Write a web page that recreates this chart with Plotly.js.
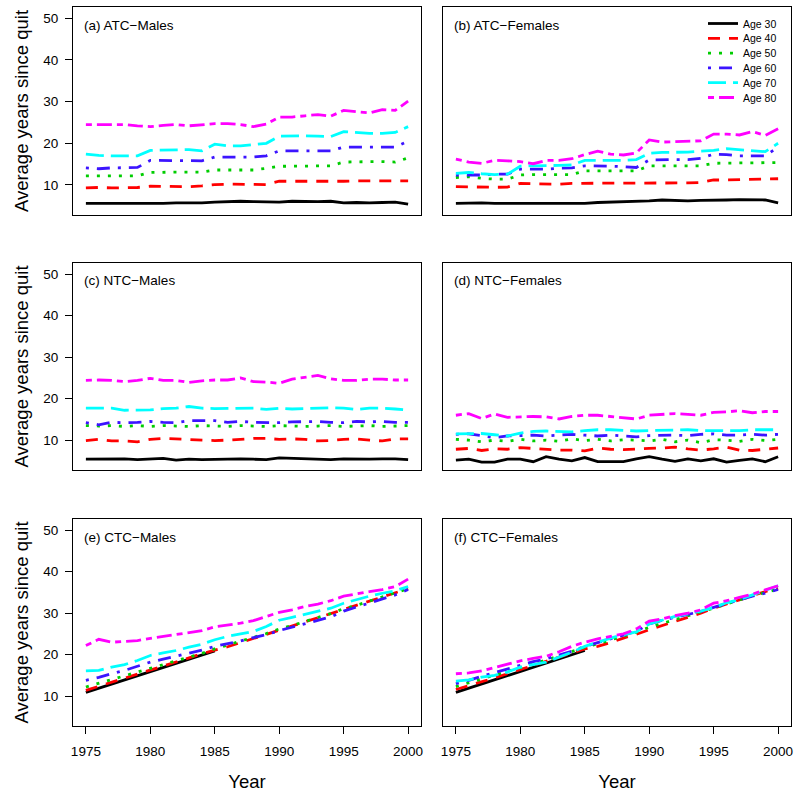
<!DOCTYPE html>
<html>
<head>
<meta charset="utf-8">
<script src="https://cdn.plot.ly/plotly-3.0.1.min.js"></script>
<style>html,body{margin:0;padding:0;background:#fff;}</style>
</head>
<body>
<div id="chart" style="width:800px;height:796px;"></div>
<script>
// ---------- data ----------
const years = [1975,1976,1977,1978,1979,1980,1981,1982,1983,1984,1985,1986,1987,1988,1989,1990,1991,1992,1993,1994,1995,1996,1997,1998,1999,2000];
const ageLabels = ["Age 30","Age 40","Age 50","Age 60","Age 70","Age 80"];
const panelTitles = ["(a) ATC\u2212Males","(b) ATC\u2212Females","(c) NTC\u2212Males","(d) NTC\u2212Females","(e) CTC\u2212Males","(f) CTC\u2212Females"];
const xTickVals = [1975,1980,1985,1990,1995,2000];
const yTickVals = [10,20,30,40,50];

// (a) ATC-Males
const atcM30 = [5.6,5.6,5.5,5.5,5.6,5.6,5.6,5.7,5.7,5.7,5.9,6.0,6.1,6.0,6.0,5.9,6.1,6.0,6.0,6.1,5.7,5.8,5.7,5.8,5.9,5.4];
const atcM40 = [9.3,9.4,9.3,9.3,9.4,9.7,9.7,9.6,9.6,9.8,10.1,10.2,10.2,10.1,10.1,10.9,10.9,10.8,10.8,10.8,10.9,11.0,11.0,11.0,11.0,11.0];
const atcM50 = [12.2,12.2,12.2,12.2,12.2,13.0,13.1,13.1,13.1,13.1,13.6,13.6,13.6,13.6,14.0,14.5,14.5,14.5,14.5,14.6,15.5,15.6,15.6,15.6,15.5,16.5];
const atcM60 = [14.1,13.9,14.1,14.2,14.2,15.9,15.9,15.9,15.9,15.8,16.7,16.7,16.7,16.7,17.0,18.2,18.2,18.2,18.1,18.2,19.1,19.1,19.1,19.1,19.1,20.5];
const atcM70 = [17.4,17.1,17.0,17.0,17.0,18.3,18.4,18.4,18.5,18.2,19.8,19.4,19.4,19.7,20.0,21.7,21.8,21.8,21.7,21.6,22.8,22.6,22.4,22.4,22.6,24.0];
const atcM80 = [24.5,24.5,24.5,24.5,24.2,24.0,24.3,24.5,24.2,24.4,24.7,24.7,24.5,24.0,24.6,26.3,26.3,26.6,26.9,26.5,27.9,27.6,27.3,28.1,27.9,30.1];

// (b) ATC-Females
const atcF30 = [5.6,5.7,5.7,5.6,5.6,5.5,5.5,5.5,5.5,5.5,5.6,5.8,5.9,5.9,6.0,6.2,6.4,6.3,6.2,6.3,6.3,6.4,6.5,6.4,6.4,5.7];
const atcF40 = [9.6,9.5,9.5,9.45,9.5,10.4,10.3,10.2,10.2,10.4,10.4,10.4,10.4,10.4,10.5,10.4,10.4,10.5,10.5,10.6,11.2,11.2,11.3,11.3,11.4,11.5];
const atcF50 = [11.8,12.0,11.6,11.4,11.4,12.4,12.5,12.5,12.5,12.5,13.4,13.4,13.4,13.3,13.4,14.6,14.6,14.6,14.6,14.6,15.2,15.3,15.3,15.3,15.3,15.4];
const atcF60 = [12.4,12.4,12.4,12.6,12.6,13.8,13.8,13.8,14.0,14.1,14.6,14.6,14.5,14.4,14.2,16.0,16.1,16.1,16.1,16.4,17.4,17.3,17.0,17.0,17.0,19.1];
const atcF70 = [12.8,13.0,12.7,12.5,12.6,14.5,14.6,14.6,14.7,14.8,15.9,15.9,15.9,15.9,16.1,17.6,17.8,17.8,17.9,18.1,18.3,18.7,18.5,18.2,18.0,20.0];
const atcF80 = [16.2,15.5,15.2,15.9,15.8,15.6,15.1,15.9,15.9,16.3,17.3,18.1,17.4,17.2,17.7,20.8,20.3,20.4,20.4,20.6,22.2,22.2,22.0,22.8,21.9,23.5];

// (c) NTC-Males
const ntcM30 = [5.4,5.4,5.5,5.5,5.3,5.5,5.6,5.2,5.4,5.3,5.4,5.4,5.5,5.4,5.3,5.7,5.6,5.4,5.4,5.3,5.5,5.4,5.4,5.5,5.5,5.3];
const ntcM40 = [9.9,10.2,9.8,9.8,9.6,10.2,10.4,10.3,10.2,10.0,9.9,10.0,10.2,10.4,10.4,10.2,10.3,10.2,9.8,9.9,10.2,10.3,10.0,9.8,10.3,10.3];
const ntcM50 = [13.5,13.4,13.5,13.3,13.5,13.3,13.5,13.4,13.3,13.5,13.4,13.3,13.5,13.4,13.3,13.5,13.4,13.3,13.4,13.5,13.3,13.4,13.5,13.3,13.4,13.5];
const ntcM60 = [14.2,13.7,14.3,14.2,14.3,14.5,14.3,14.2,14.7,14.7,14.7,14.3,14.5,14.3,14.2,14.2,14.4,14.5,14.5,14.3,14.2,14.5,14.4,14.5,14.3,14.3];
const ntcM70 = [17.7,17.7,17.7,17.2,17.3,17.3,17.6,17.7,18.1,17.7,17.6,17.6,17.7,17.7,17.4,17.7,17.5,17.6,17.7,17.8,17.7,17.4,17.7,17.7,17.5,17.3];
const ntcM80 = [24.4,24.5,24.4,24.1,24.4,24.9,24.4,24.4,23.9,24.3,24.5,24.5,25.0,24.1,24.0,23.7,24.7,25.2,25.6,24.8,24.4,24.4,24.7,24.7,24.5,24.5];

// (d) NTC-Females
const ntcF30 = [5.2,5.4,4.7,4.7,5.4,5.4,4.8,6.0,5.4,5.0,5.8,4.8,4.8,4.8,5.5,6.0,5.4,4.9,5.5,5.0,5.5,4.7,5.1,5.5,4.8,6.0];
const ntcF40 = [7.8,8.0,7.5,7.9,7.8,8.2,8.0,7.8,7.6,7.6,7.4,8.1,7.8,7.7,7.9,8.0,8.1,8.3,7.9,7.6,7.9,8.3,7.6,7.5,7.8,8.1];
const ntcF50 = [10.2,10.0,9.6,10.0,9.7,10.2,9.8,10.0,9.7,10.3,9.9,10.2,9.8,10.1,10.0,9.8,10.2,9.6,10.0,9.4,10.1,10.0,9.7,10.2,9.9,10.2];
const ntcF60 = [11.4,11.5,11.1,10.6,11.0,11.1,11.2,11.0,11.2,11.4,11.2,11.0,11.2,11.0,10.8,11.1,11.2,11.2,11.1,11.4,11.5,11.2,11.2,11.4,11.2,11.4];
const ntcF70 = [11.5,11.5,11.6,11.3,11.0,11.7,12.1,12.2,12.1,12.0,12.3,12.5,12.5,12.4,12.2,12.3,12.4,12.4,12.5,12.3,12.3,12.2,12.3,12.5,12.5,12.5];
const ntcF80 = [16.0,16.4,15.2,16.3,15.5,15.6,15.7,15.6,15.1,15.7,16.0,16.0,15.7,15.5,15.1,16.0,16.2,16.4,16.2,16.0,16.7,16.8,17.1,16.6,16.9,16.9];

// (e) CTC-Males
const ctcM30 = [10.9,11.9,12.9,13.9,14.9,15.9,16.9,17.9,18.9,19.9,20.9,null,null,null,null,null,null,null,null,null,null,null,null,null,null,null];
const ctcM40 = [11.4,12.4,13.3,14.3,15.3,16.3,17.2,18.2,19.2,20.2,21.1,21.9,22.9,23.9,24.9,25.9,26.9,27.8,28.8,29.8,30.8,31.8,32.8,33.8,34.9,35.9];
const ctcM50 = [12.2,13.1,14.0,14.9,15.7,16.6,17.5,18.4,19.3,20.3,21.4,22.3,23.2,24.2,25.1,26.2,27.0,28.0,28.9,29.9,31.1,31.9,32.9,33.9,34.9,35.9];
const ctcM60 = [13.8,14.5,15.4,16.2,17.2,18.2,18.9,19.6,20.4,21.1,22.0,22.6,23.3,24.1,24.8,25.8,26.6,27.5,28.3,29.1,30.5,31.5,32.5,33.5,34.4,35.7];
const ctcM70 = [16.1,16.2,17.0,17.6,18.6,19.8,20.4,21.0,21.8,22.5,23.6,24.4,25.0,25.6,26.8,28.3,29.0,29.7,30.5,31.2,32.4,33.3,34.1,34.8,35.4,36.4];
const ctcM80 = [22.2,23.7,23.0,23.2,23.4,23.9,24.4,24.9,25.3,25.8,26.7,27.1,27.6,28.2,29.2,30.2,30.8,31.6,32.2,33.0,34.1,34.7,35.2,35.7,36.4,38.2];

// (f) CTC-Females
const ctcF30 = [10.9,11.9,12.9,13.9,14.9,15.9,16.9,17.9,18.9,19.9,21.0,null,null,null,null,null,null,null,null,null,null,null,null,null,null,null];
const ctcF40 = [11.6,12.5,13.5,14.4,15.4,16.4,17.3,18.3,19.3,20.3,21.4,22.0,22.9,24.0,24.9,26.0,27.0,28.0,29.0,30.0,31.2,32.2,33.2,34.2,35.2,36.0];
const ctcF50 = [12.3,13.2,14.1,15.0,15.9,16.8,17.7,18.7,19.7,20.7,21.8,22.6,23.5,24.4,25.4,26.6,27.5,28.4,29.3,30.2,31.2,32.2,33.2,34.2,35.0,35.8];
const ctcF60 = [13.0,13.8,14.8,15.7,16.6,17.4,18.3,19.0,19.9,20.8,22.0,22.9,23.8,24.7,25.6,27.4,28.3,29.0,29.7,30.4,31.4,32.3,33.2,34.1,34.8,35.7];
const ctcF70 = [13.6,13.9,14.6,15.0,15.8,17.0,17.6,18.2,19.4,20.6,22.0,23.0,24.0,24.8,25.5,27.4,28.3,29.2,29.8,30.5,31.4,32.5,33.3,34.4,35.5,36.6];
const ctcF80 = [15.4,15.6,16.1,16.9,17.7,18.5,19.1,19.6,20.7,22.0,23.0,23.8,24.4,25.0,26.2,28.1,28.6,29.4,30.0,30.8,32.4,33.0,33.8,34.6,35.6,36.6];

const panels = [
  [atcM30,atcM40,atcM50,atcM60,atcM70,atcM80],
  [atcF30,atcF40,atcF50,atcF60,atcF70,atcF80],
  [ntcM30,ntcM40,ntcM50,ntcM60,ntcM70,ntcM80],
  [ntcF30,ntcF40,ntcF50,ntcF60,ntcF70,ntcF80],
  [ctcM30,ctcM40,ctcM50,ctcM60,ctcM70,ctcM80],
  [ctcF30,ctcF40,ctcF50,ctcF60,ctcF70,ctcF80]
];

// ---------- styles ----------
const colors = ["#000000","#FF0000","#00CD00","#3C14FF","#00FFFF","#FF00FF"];
const dashes = ["solid","12px,9px","3px,8px","3px,8px,13px,8px","18px,7px","6px,5px,15px,5px"];
const FONT = "Liberation Sans, Arial, Helvetica, sans-serif";

const W = 800, H = 796;
const colX = [[73,421],[443,791]];
const rowY = [[7,215],[263,470],[519,726]];

const traces = [];
panels.forEach((series, p) => {
  const ax = p === 0 ? "" : String(p + 1);
  series.forEach((ys, k) => {
    traces.push({
      x: years, y: ys, type: "scatter", mode: "lines",
      xaxis: "x" + ax, yaxis: "y" + ax,
      name: ageLabels[k], legendgroup: ageLabels[k],
      showlegend: p === 1,
      line: {color: colors[k], width: 2.8, dash: dashes[k]},
      connectgaps: false,
      hoverinfo: "x+y+name"
    });
  });
});

const layout = {
  width: W, height: H,
  margin: {l: 0, r: 0, t: 0, b: 0},
  paper_bgcolor: "#ffffff", plot_bgcolor: "#ffffff",
  font: {family: FONT, color: "#000", size: 14},
  showlegend: true,
  legend: {
    x: 703 / W, xanchor: "left", y: 1 - 9 / H, yanchor: "top",
    bgcolor: "rgba(0,0,0,0)", borderwidth: 0,
    font: {family: FONT, size: 10.5, color: "#000"},
    tracegroupgap: 0, itemwidth: 30
  },
  annotations: []
};

for (let p = 0; p < 6; p++) {
  const col = p % 2, row = Math.floor(p / 2);
  const ax = p === 0 ? "" : String(p + 1);
  const bottom = row === 2, left = col === 0;
  layout["xaxis" + ax] = {
    domain: [colX[col][0] / W, colX[col][1] / W],
    anchor: "y" + ax,
    range: [1974, 2001],
    showline: true, mirror: true, linecolor: "#000", linewidth: 1,
    showgrid: false, zeroline: false,
    tickmode: "array", tickvals: xTickVals,
    ticks: bottom ? "outside" : "", ticklen: 7, tickwidth: 1, tickcolor: "#000",
    showticklabels: bottom,
    tickfont: {family: FONT, size: 13.5, color: "#000"},
    ticklabelstandoff: 6,
    title: bottom ? {text: "Year", font: {family: FONT, size: 18.5, color: "#000"}, standoff: 16} : {text: ""},
    automargin: false, fixedrange: true
  };
  layout["yaxis" + ax] = {
    domain: [1 - rowY[row][1] / H, 1 - rowY[row][0] / H],
    anchor: "x" + ax,
    range: [2.8, 52.7],
    showline: true, mirror: true, linecolor: "#000", linewidth: 1,
    showgrid: false, zeroline: false,
    tickmode: "array", tickvals: yTickVals,
    ticks: left ? "outside" : "", ticklen: 7, tickwidth: 1, tickcolor: "#000",
    showticklabels: left,
    tickfont: {family: FONT, size: 13.5, color: "#000"},
    ticklabelstandoff: 4,
    title: left ? {text: "Average years since quit", font: {family: FONT, size: 18.5, color: "#000"}, standoff: 9} : {text: ""},
    automargin: false, fixedrange: true
  };
  const labelY = [26, 281, 537][row];
  layout.annotations.push({
    text: panelTitles[p], xref: "paper", yref: "paper",
    x: (colX[col][0] + 9) / W, y: 1 - labelY / H,
    xanchor: "left", yanchor: "middle", showarrow: false,
    font: {family: FONT, size: 13.5, color: "#000"}
  });
}

Plotly.newPlot("chart", traces, layout, {displayModeBar: false, staticPlot: true}).then(() => {
  // tighten legend row spacing to match the reference (about 14.8 px per entry)
  const items = document.querySelectorAll("#chart .legend .traces");
  if (!items.length) return;
  const m = /translate\(\s*([-\d.]+)[ ,]+([-\d.]+)\s*\)/.exec(items[0].getAttribute("transform") || "");
  if (!m) return;
  const x0 = parseFloat(m[1]), y0 = parseFloat(m[2]);
  items.forEach((g, i) => g.setAttribute("transform", "translate(" + x0 + "," + (y0 + i * 14.8) + ")"));
});
</script>
</body>
</html>
